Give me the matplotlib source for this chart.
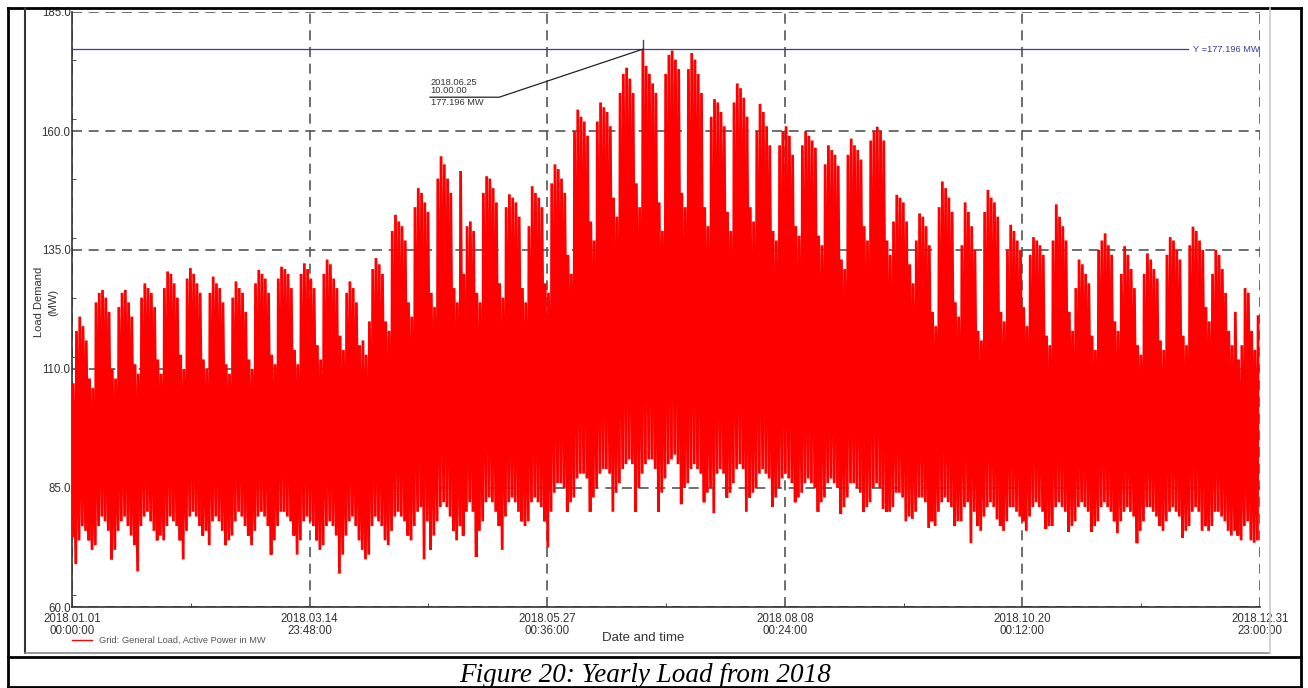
import datetime as dt
import numpy as np
import matplotlib
matplotlib.use('Agg')
import matplotlib.pyplot as plt
from matplotlib.lines import Line2D
from matplotlib.ticker import MultipleLocator

# --- daily load values (MW), one line per week Mon..Sun ---
daily_peak = [
    107, 118, 121, 119, 116, 108, 106,
    124, 126, 126.6, 125, 122, 110, 108,
    123, 126, 126.6, 124, 121, 111, 109,
    125, 128, 127, 126, 123, 112, 109,
    127, 130.5, 130, 128, 125, 113, 110,
    129, 131.2, 130, 128, 126, 112, 110,
    126, 129.4, 128, 127, 124, 111, 109,
    125, 128.4, 127, 126, 122, 112, 110,
    128, 130.8, 130, 129, 126, 113, 111,
    129, 131.5, 131, 130, 127, 114, 111,
    130, 132.2, 131, 129, 127, 115, 112,
    130, 133, 132, 129, 127, 117, 114,
    126, 128.4, 127, 124, 115, 116, 113,
    120, 131, 133.3, 132, 130, 120, 118,
    139, 142.4, 141, 140, 137, 124, 121,
    144, 148, 147, 145, 143, 126, 123,
    150, 154.7, 153, 150, 147, 127, 124,
    151.6, 130, 140, 141, 139, 126, 124,
    147, 150.5, 150, 148, 145, 128, 125,
    144, 146.7, 146, 145, 142, 127, 124,
    140, 148.4, 147, 146, 144, 128, 126,
    149, 153, 152, 150, 147, 134, 130,
    160, 164.5, 163, 162, 159, 141, 137,
    162, 166, 165, 164, 161, 146, 142,
    168, 172, 173.3, 171, 168, 149, 144,
    177.196, 173.7, 172, 170, 168, 145, 139,
    172, 176, 176.9, 175, 173, 147, 144,
    173, 176.4, 175, 172, 168, 144, 140,
    163, 166.7, 166, 164, 161, 143, 139,
    166, 170, 169, 167, 163, 144, 141,
    160, 165.7, 164, 161, 157, 139, 137,
    157, 160, 161, 159, 155, 140, 138,
    157, 160, 159, 158, 156.5, 138, 136,
    153, 157, 156, 155, 152.7, 133, 131,
    155, 158.4, 157, 156, 154, 140, 137,
    158, 160, 160.9, 160, 158, 137, 134,
    141, 146.6, 146, 145, 141, 132, 128,
    137, 142.7, 142, 140, 136, 122, 119,
    144, 149.4, 148, 146, 143, 124, 121,
    136, 145, 143, 140, 135, 118, 116,
    143, 147.6, 146, 145, 142, 122, 120,
    135, 140.3, 139, 137, 135, 123, 119,
    134, 137.7, 137, 136, 134, 117, 115,
    137, 144.6, 142, 140, 137, 122, 118,
    127, 133, 132, 130, 128, 117, 114,
    135, 137, 138.5, 136, 134, 120, 118,
    130, 135.8, 134, 131, 127, 115, 113,
    130, 134.3, 133, 131, 129, 116, 114,
    134, 137.7, 137, 135, 133, 117, 115,
    136, 139.9, 139, 137, 135, 123, 120,
    130, 135, 134, 131, 126, 118, 115,
    122, 112, 115, 127, 126, 118, 114,
    121,
]
daily_min = [
    75, 69, 74, 77, 76, 74, 72,
    73, 77, 79, 78, 76, 70, 72,
    76, 78, 79, 77, 75, 73, 67.5,
    77, 79, 80, 78, 76, 74, 75,
    74, 77, 79, 78, 77, 74, 70,
    76, 79, 80, 79, 77, 75, 76,
    73, 78, 79, 78, 76, 73, 74,
    75, 78, 80, 79, 77, 75, 73,
    76, 79, 80, 79, 77, 71, 74,
    77, 80, 80, 79, 78, 75, 71,
    74, 78, 79, 78, 77, 74, 72,
    73, 77, 78, 77, 75, 67, 71,
    75, 78, 79, 77, 74, 72, 70,
    71, 77, 79, 78, 77, 74, 73,
    76, 79, 80, 79, 78, 75, 74,
    77, 80, 81, 70, 78, 72, 75,
    78, 81, 82, 81, 79, 76, 74,
    77, 75, 80, 82, 80, 70.5, 76,
    78, 82, 83, 82, 80, 77, 72,
    79, 82, 83, 82, 80, 78, 77,
    78, 82, 83, 82, 81, 78, 72.5,
    80, 84, 86, 86, 85, 80, 82,
    83, 87, 88, 88, 87, 80, 83,
    85, 88, 89, 89, 88, 80, 84,
    86, 89, 90, 91, 90, 80, 85,
    88, 90, 91, 91, 89, 80, 84,
    87, 90, 91, 92, 90, 81.6, 85,
    86, 89, 90, 89, 88, 82, 84,
    85, 79.7, 88, 89, 88, 83, 84,
    86, 89, 90, 89, 80, 83, 84,
    85, 88, 89, 88, 87, 81, 83,
    85, 87, 88, 87, 86, 82, 83,
    84, 86, 87, 86, 85, 80, 82,
    83, 86, 87, 86, 85, 79.6, 81,
    83, 86, 86, 85, 84, 80, 81,
    82, 85, 86, 85, 80.6, 80, 80,
    81, 84, 84, 83, 78, 79, 78.5,
    80, 83, 83, 82, 76.6, 78, 77,
    80, 82, 83, 82, 81, 77, 78,
    78, 81, 82, 73.4, 80, 77, 76,
    79, 81, 82, 81, 78.4, 77, 76,
    78, 81, 81, 80, 79, 78, 76,
    79, 81, 82, 81, 80, 76.4, 77,
    77, 81, 82, 81, 80, 75.8, 77,
    78, 81, 82, 81, 80, 75.8, 77,
    78, 81, 82, 81, 80, 78, 75.5,
    78, 80, 81, 80, 79, 73.4, 76,
    78, 81, 81, 80, 79, 77, 76,
    78, 80, 81, 80, 79, 74.5, 76,
    77, 80, 81, 80, 76, 77, 76,
    77, 80, 80, 79, 78, 76, 75,
    76, 75, 74, 77, 78, 74, 73.5,
    74,
]

x_tick_hours = np.linspace(0, 8759, 6)
y_ticks = [60.0, 85.0, 110.0, 135.0, 160.0, 185.0]
start = dt.datetime(2018, 1, 1)
min_hour, peak_hour = 4, 9
dst_on = dt.datetime(2018, 3, 25, 2)
dst_off = dt.datetime(2018, 10, 28, 2)


def local_time(h):
    # the time axis is labelled in local clock time (summer time +1 h)
    t = start + dt.timedelta(hours=float(h))
    if dst_on <= t < dst_off:
        t += dt.timedelta(hours=1)
    return t


W, H = 1308, 688
fig = plt.figure(figsize=(W / 100, H / 100), dpi=100)
plt.rcParams['font.family'] = ['Liberation Sans', 'DejaVu Sans']

def fx(px):
    return px / W

def fy(py):
    return 1 - py / H

ax = fig.add_axes([fx(72), fy(607), fx(1260) - fx(72), fy(12) - fy(607)])

# trace: night minimum then daytime peak for each day
hours, load = [], []
for d, (lo, hi) in enumerate(zip(daily_min, daily_peak)):
    hours += [24 * d + min_hour, 24 * d + peak_hour]
    load += [lo, hi]
ax.plot(hours, load, color='#ff0000', lw=2.0, solid_joinstyle='miter', zorder=3)

ax.set_xlim(0, 8759)
ax.set_ylim(60, 185)
ax.set_xticks(x_tick_hours)
ax.set_xticklabels([local_time(h).strftime('%Y.%m.%d\n%H:%M:%S') for h in x_tick_hours],
                   fontsize=8.3, color='#333333', linespacing=1.0)
ax.set_yticks(y_ticks)
ax.set_yticklabels([f'{v:.1f}' for v in y_ticks], fontsize=8.3, color='#333333')
ax.xaxis.set_minor_locator(MultipleLocator(8759 / 10))
ax.yaxis.set_minor_locator(MultipleLocator(12.5))
ax.tick_params(axis='x', which='major', length=0, pad=4)
ax.tick_params(axis='y', which='major', length=0, pad=1)
ax.tick_params(which='minor', length=3, direction='in', color='#333333')
ax.grid(True, which='major', color='#555555', linestyle=(0, (6, 4)), lw=1.2, zorder=1)
for s in ['top', 'right']:
    ax.spines[s].set_visible(False)
for s in ['left', 'bottom']:
    ax.spines[s].set_color('#333333')
    ax.spines[s].set_linewidth(1.2)

# max marker, horizontal line and annotation
i_max = int(np.argmax(daily_peak))
t_max = 24 * i_max + peak_hour
v_max = daily_peak[i_max]
ax.axhline(v_max, xmin=0, xmax=(1188 - 72) / 1188, color='#3a3aa0', lw=0.9, zorder=4)
ax.text(1.0, v_max, f'Y ={v_max:.3f} MW', transform=ax.get_yaxis_transform(),
        ha='right', va='center', fontsize=6.7, color='#3a3aa0')
ax.plot([t_max, t_max], [v_max, v_max + 2], color='#3a3aa0', lw=1.0, zorder=5)
when = local_time(t_max)
lbl_x = 3150
lbl_y = 167.1
ax.plot([t_max, lbl_x, 2640], [v_max, lbl_y, lbl_y], color='#222222', lw=0.9, zorder=5)
ax.text(2645, lbl_y + 0.4, when.strftime('%Y.%m.%d') + '\n' + when.strftime('%H.%M.%S'),
        fontsize=6.7, color='#333333', ha='left', va='bottom', linespacing=0.95)
ax.text(2645, lbl_y - 0.2, f'{v_max:.3f} MW', fontsize=6.7, color='#333333',
        ha='left', va='top')

# axis titles and legend
fig.text(fx(46), fy(302), 'Load Demand\n(MW)', rotation=90, ha='center', va='center',
         fontsize=8, color='#333333', linespacing=1.5)
fig.text(fx(643), fy(638), 'Date and time', ha='center', va='center', fontsize=9.5,
         color='#333333')
fig.add_artist(Line2D([fx(72), fx(92)], [fy(640), fy(640)], color='#ff0000', lw=1.0))
fig.text(fx(99), fy(640), 'Grid: General Load, Active Power in MW', ha='left', va='center',
         fontsize=6.7, color='#555555')

# frames of the document figure
def hline(y, x0, x1, c='black', lw=2.0):
    fig.add_artist(Line2D([fx(x0), fx(x1)], [fy(y), fy(y)], color=c, lw=lw))

def vline(x, y0, y1, c='black', lw=2.0):
    fig.add_artist(Line2D([fx(x), fx(x)], [fy(y0), fy(y1)], color=c, lw=lw))

hline(8, 8, 1301)
hline(657, 8, 1301)
hline(687, 8, 1301)
vline(8, 8, 688)
vline(1301, 8, 688)
vline(25, 8, 653, c='#333333', lw=1.5)
hline(653, 25, 1270, c='#888888', lw=1.2)
vline(1270, 8, 653, c='#cccccc', lw=1.2)

fig.text(fx(645), fy(682), 'Figure 20: Yearly Load from 2018', ha='center', va='baseline',
         fontsize=19.5, style='italic', family=['Liberation Serif', 'DejaVu Serif'])

fig.savefig('out.png', dpi=100)
